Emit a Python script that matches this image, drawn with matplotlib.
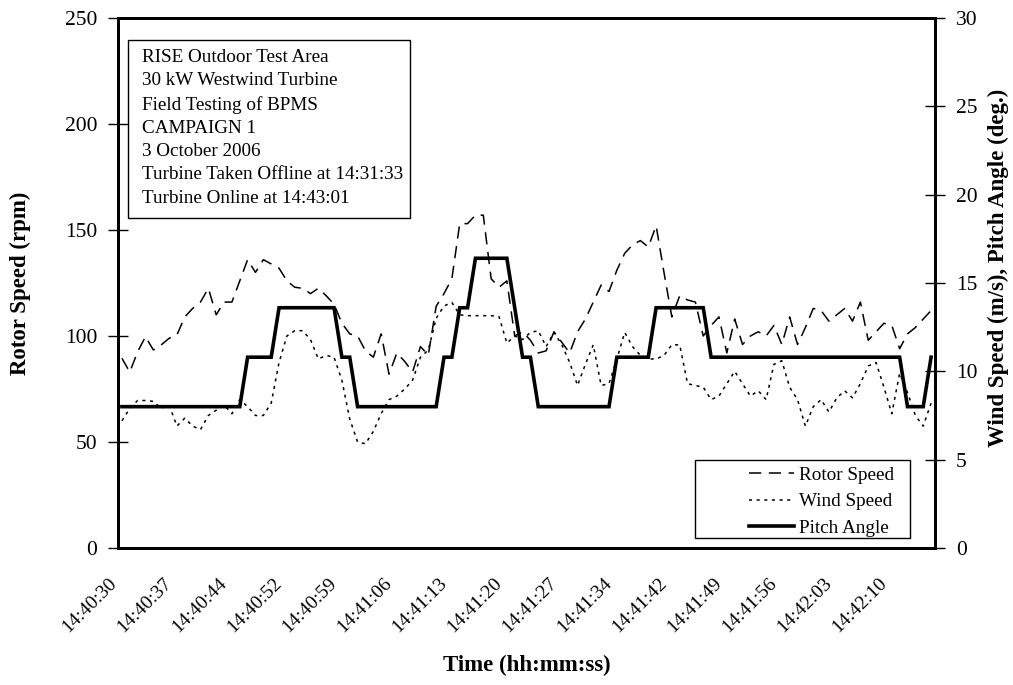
import numpy as np
import matplotlib.pyplot as plt
from matplotlib.patches import Rectangle
from matplotlib.transforms import ScaledTranslation

plt.rcParams['font.family'] = ['Liberation Serif', 'DejaVu Serif']

# Rotor speed (rpm), one value per sample
rotor_speed = [89.5, 83, 92.6, 99.7, 93.4, 95.8, 98.9, 100.5, 109, 113,
               116, 122.5, 110, 116, 116, 126, 136, 130, 136, 134,
               132, 126, 123, 122.5, 120, 122.5, 119, 115, 106, 101,
               100, 93, 90, 101, 82, 92, 88, 83, 95, 91,
               114, 120, 127, 153, 153, 157, 157, 127, 123, 126,
               100, 102, 98, 92, 93, 102, 97, 92, 102, 108,
               116, 124, 121, 131, 139, 143, 145, 142, 152, 130,
               109, 119, 117, 116, 100, 105, 109, 92, 108, 96,
               100, 102, 100, 105, 96, 109, 96, 104, 113, 112,
               107, 110, 113, 107, 116, 98, 102, 106, 105, 94,
               101, 104, 108, 112]

# Wind speed (m/s)
wind_speed = [7.2, 7.9, 8.35, 8.35, 8.3, 7.9, 8.1, 6.9, 7.35, 6.9,
              6.7, 7.5, 7.8, 8.1, 7.6, 8.4, 8.0, 7.5, 7.5, 8.2,
              10.5, 12.0, 12.3, 12.3, 11.8, 10.7, 10.9, 10.8, 9.5, 7.3,
              6.0, 5.9, 6.6, 7.6, 8.4, 8.6, 9.0, 9.5, 10.8, 11.2,
              13.0, 13.7, 13.9, 13.2, 13.15, 13.15, 13.15, 13.15, 13.1, 11.6,
              12.0, 11.8, 12.2, 12.3, 11.4, 12.2, 11.5, 10.5, 9.2, 10.4,
              11.5, 9.2, 9.3, 10.7, 12.2, 11.4, 10.9, 10.7, 10.7, 10.9,
              11.5, 11.5, 9.3, 9.2, 9.1, 8.4, 8.6, 9.3, 10.0, 9.3,
              8.6, 8.9, 8.4, 10.4, 10.6, 9.1, 8.4, 6.9, 8.0, 8.4,
              7.7, 8.5, 8.9, 8.5, 9.3, 10.3, 10.5, 9.1, 7.6, 9.9,
              8.8, 7.5, 6.9, 8.2]

# Pitch angle (deg.)
pitch_angle = ([8.0] * 16 + [10.8] * 4 + [13.6] * 8 + [10.8] * 2 + [8.0] * 11
               + [10.8] * 2 + [13.6] * 2 + [16.4] * 5 + [13.6] + [10.8] * 2
               + [8.0] * 10 + [10.8] * 5 + [13.6] * 7 + [10.8] * 25
               + [8.0] * 3 + [10.8])

time_labels = ['14:40:30', '14:40:37', '14:40:44', '14:40:52', '14:40:59',
               '14:41:06', '14:41:13', '14:41:20', '14:41:27', '14:41:34',
               '14:41:42', '14:41:49', '14:41:56', '14:42:03', '14:42:10']
label_step = 7

info_text = ("RISE Outdoor Test Area\n30 kW Westwind Turbine\nField Testing of BPMS\n"
             "CAMPAIGN 1\n3 October 2006\nTurbine Taken Offline at 14:31:33\n"
             "Turbine Online at 14:43:01")

x = np.arange(len(rotor_speed))

fig = plt.figure(figsize=(10.13, 6.85), dpi=100)
ax = fig.add_axes([118 / 1013, 1 - 548 / 685, (935 - 118) / 1013, (548 - 18) / 685])
ax2 = ax.twinx()

l1, = ax.plot(x, rotor_speed, color='black', lw=1.1, linestyle=(0, (8, 5)))
l2, = ax2.plot(x, wind_speed, color='black', lw=1.1, linestyle=(0, (2, 3)))
l3, = ax2.plot(x, pitch_angle, color='black', lw=2.6, solid_joinstyle='miter')

ax.set_xlim(-0.5, len(x) - 0.5)
ax.set_ylim(0, 250)
ax2.set_ylim(0, 30)
ax.set_yticks(np.arange(0, 251, 50))
ax2.set_yticks(np.arange(0, 31, 5))

ax.set_xticks(x[::label_step][:len(time_labels)])
ax.set_xticklabels(time_labels, rotation=45, ha='right', va='top',
                   rotation_mode='anchor', fontsize=14)
ax.tick_params(axis='x', length=0, pad=19)
shift = ScaledTranslation(-14 / 100, 0, fig.dpi_scale_trans)
for lab in ax.get_xticklabels():
    lab.set_transform(lab.get_transform() + shift)

ax.tick_params(axis='y', direction='inout', length=14, width=1, labelsize=15.5, pad=8)
ax2.tick_params(axis='y', direction='inout', length=14, width=1, labelsize=15.5, pad=8)

for a in (ax, ax2):
    for s in a.spines.values():
        s.set_linewidth(2)

ax.set_ylabel('Rotor Speed (rpm)', fontsize=16.5, fontweight='bold',
              ha='center', va='center')
ax.yaxis.set_label_coords((20 - 118) / 817, 0.5)
ax2.set_ylabel('Wind Speed (m/s), Pitch Angle (deg.)', fontsize=16.5,
               fontweight='bold', ha='center', va='center')
ax2.yaxis.set_label_coords((998 - 118) / 817, (548 - 268) / 530)
ax.set_xlabel('Time (hh:mm:ss)', fontsize=16.5, fontweight='bold',
              ha='center', va='center')
ax.xaxis.set_label_coords(0.5, (548 - 665) / 530)

# info box
ax.add_patch(Rectangle(((128 - 118) / 817, (548 - 218) / 530),
                       (410 - 128) / 817, (218 - 40) / 530,
                       transform=ax.transAxes, fc='white', ec='black',
                       lw=1, zorder=4))
ax.text((142 - 118) / 817, (548 - 49) / 530, info_text, transform=ax.transAxes,
        fontsize=13.8, va='top', ha='left', linespacing=1.48, zorder=5)

# legend: frame drawn separately to match the wide left margin of the original
ax2.add_patch(Rectangle(((695 - 118) / 817, (548 - 538) / 530),
                        (910 - 695) / 817, (538 - 460) / 530,
                        transform=ax2.transAxes, fc='white', ec='black',
                        lw=1, zorder=4))
leg = ax2.legend([l1, l2, l3], ['Rotor Speed', 'Wind Speed', 'Pitch Angle'],
                 loc='center', bbox_to_anchor=((821.5 - 118) / 817, (548 - 501.5) / 530),
                 fontsize=13.8, frameon=False, handlelength=2.35,
                 handletextpad=0.3, borderpad=0, borderaxespad=0,
                 labelspacing=0.48)
leg.set_zorder(5)

fig.savefig('out.png', dpi=100)
